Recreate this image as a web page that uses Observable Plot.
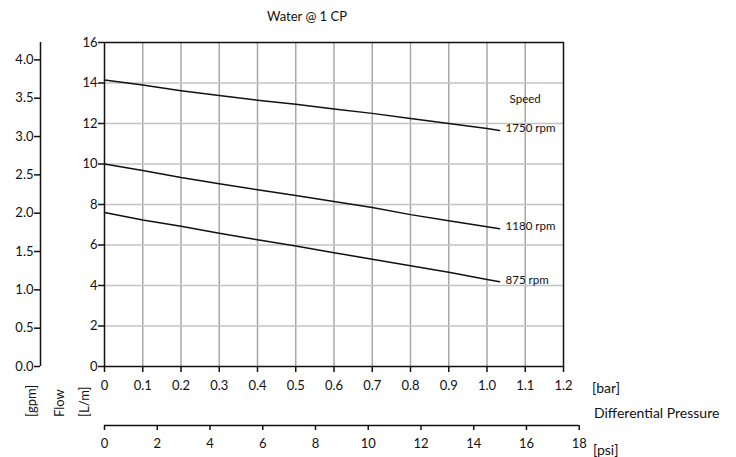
<!DOCTYPE html>
<html><head><meta charset="utf-8">
<script src="https://cdn.jsdelivr.net/npm/d3@7"></script>
<script src="https://cdn.jsdelivr.net/npm/@observablehq/plot@0.6"></script>
<style>
body{margin:0;background:#fff;font-family:Lato,"DejaVu Sans",sans-serif;}
#wrap{position:relative;width:736px;height:457px;overflow:hidden;}
#wrap svg{position:absolute;left:0;top:0;}
.lbl{position:absolute;font-size:13px;color:#111;white-space:nowrap;line-height:1;}
.rot{transform-origin:left top;transform:rotate(-90deg);}
</style></head><body><div id="wrap"></div>
<script>
// ---- data ----
const title = "Water @ 1 CP";
const pressureBar = [0, 0.1, 0.2, 0.3, 0.4, 0.5, 0.6, 0.7, 0.8, 0.9, 1.0, 1.033];
const flow1750 = [14.15, 13.9, 13.62, 13.38, 13.15, 12.95, 12.72, 12.5, 12.25, 12.0, 11.75, 11.65];
const flow1180 = [10.0, 9.68, 9.33, 9.03, 8.73, 8.45, 8.15, 7.85, 7.5, 7.2, 6.9, 6.8];
const flow875  = [7.6, 7.24, 6.93, 6.58, 6.26, 5.95, 5.62, 5.3, 4.97, 4.65, 4.3, 4.18];
const speedLabels = ["1750 rpm", "1180 rpm", "875 rpm"];
const legendTitle = "Speed";
const barTicks = [0, 0.1, 0.2, 0.3, 0.4, 0.5, 0.6, 0.7, 0.8, 0.9, 1.0, 1.1, 1.2];
const lpmTicks = [0, 2, 4, 6, 8, 10, 12, 14, 16];
const gpmTicks = [0, 0.5, 1.0, 1.5, 2.0, 2.5, 3.0, 3.5, 4.0];
const psiTicks = [0, 2, 4, 6, 8, 10, 12, 14, 16, 18];
const LPM_PER_GPM = 3.78541;
const PSI_PER_BAR = 14.5038;

const series = [flow1750, flow1180, flow875];
const rows = [];
series.forEach((s, i) => s.forEach((q, j) => rows.push({p: pressureBar[j], q, speed: speedLabels[i]})));

// ---- layout ----
const W = 736, H = 457, mT = 42, mB = 91, mL = 104, mR = 173;
const font = 'Lato,"DejaVu Sans",sans-serif';
const style = {fontFamily: font, fontSize: "13px", color: "#111", background: "transparent", overflow: "visible"};
const ink = "#111";

const main = Plot.plot({
  width: W, height: H, marginTop: mT, marginBottom: mB, marginLeft: mL, marginRight: mR,
  style,
  x: {domain: [0, 1.2], axis: null},
  y: {domain: [0, 16], axis: null},
  marks: [
    Plot.gridX(barTicks.slice(1, -1), {stroke: "#a8a8a8", strokeOpacity: 1, strokeWidth: 1.5}),
    Plot.gridY(lpmTicks.slice(1, -1), {stroke: "#c4c4c4", strokeOpacity: 1, strokeWidth: 1.5}),
    Plot.frame({stroke: ink, strokeWidth: 1.5}),
    Plot.axisX(barTicks, {tickSize: 6, tickPadding: 8, strokeWidth: 1.5, label: null,
      tickFormat: d => d === 0 ? "0" : d.toFixed(1)}),
    Plot.axisY(lpmTicks, {tickSize: 6, tickPadding: 1, strokeWidth: 1.5, label: null,
      tickFormat: d => String(d)}),
    Plot.line(rows, {x: "p", y: "q", z: "speed", stroke: ink, strokeWidth: 1.5}),
    Plot.text(rows, Plot.selectLast({x: "p", y: "q", z: "speed", text: "speed",
      textAnchor: "start", dx: 6, dy: -2, fontSize: 11.5, fill: ink})),
    Plot.text(rows.filter(r => r.speed === speedLabels[0]), Plot.selectLast({x: "p", y: "q",
      text: () => legendTitle, textAnchor: "start", dx: 10, dy: -31, fontSize: 11.5, fill: ink}))
  ]
});

const gpm = Plot.plot({
  width: W, height: H, marginTop: mT, marginBottom: mB, marginLeft: 40, marginRight: W - 41,
  style,
  x: {domain: [0, 1], axis: null},
  y: {domain: [0, 16 / LPM_PER_GPM], axis: null},
  marks: [
    Plot.ruleX([0], {stroke: ink, strokeWidth: 1.5}),
    Plot.axisY(gpmTicks, {tickSize: 6, tickPadding: 1, strokeWidth: 1.5, label: null,
      tickFormat: d => d.toFixed(1)})
  ]
});

const psiEnd = mL + (18 / PSI_PER_BAR) / 1.2 * (W - mL - mR);
const psi = Plot.plot({
  width: W, height: H, marginTop: 20, marginBottom: 32, marginLeft: mL, marginRight: W - psiEnd,
  style,
  x: {domain: [0, 18], axis: null},
  y: {domain: [0, 1], axis: null},
  marks: [
    Plot.ruleY([0], {stroke: ink, strokeWidth: 1.5}),
    Plot.axisX(psiTicks, {tickSize: 5, tickPadding: 8, strokeWidth: 1.5, label: null})
  ]
});

const wrap = document.getElementById("wrap");
wrap.append(main, gpm, psi);

function label(text, left, top, size, cls) {
  const d = document.createElement("div");
  d.className = "lbl" + (cls ? " " + cls : "");
  d.textContent = text;
  d.style.left = left + "px";
  d.style.top = top + "px";
  if (size) d.style.fontSize = size + "px";
  wrap.append(d);
}
label(title, 267, 10, 13);
label("[bar]", 592, 381, 14);
label("Differential Pressure", 594, 406, 14);
label("[psi]", 593, 443, 14);
label("[gpm]", 25, 417, 13, "rot");
label("Flow", 53, 417, 13, "rot");
label("[L/m]", 78, 417, 13, "rot");
</script></body></html>
